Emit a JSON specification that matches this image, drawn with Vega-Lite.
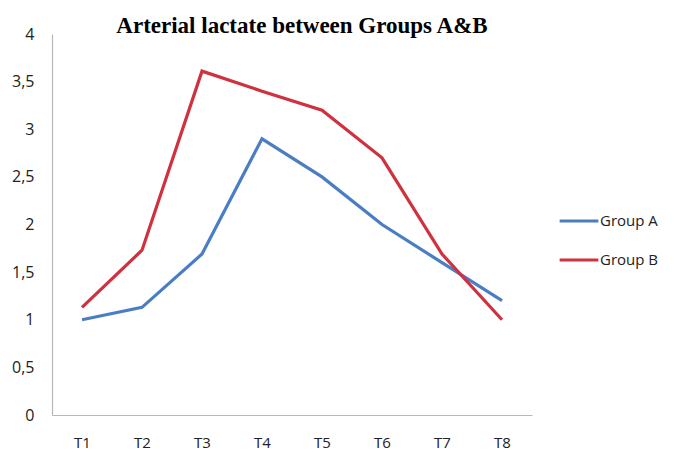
{
  "$schema": "https://vega.github.io/schema/vega-lite/v6.json",
  "autosize": "none",
  "width": 480,
  "height": 381,
  "padding": {"left": 52, "top": 34, "right": 141, "bottom": 47},
  "background": "white",
  "config": {"view": {"stroke": null}},
  "title": {
    "text": "Arterial lactate  between Groups A&B",
    "font": "Liberation Serif",
    "fontSize": 23,
    "fontWeight": "bold",
    "color": "#000000",
    "anchor": "middle",
    "dx": 10,
    "offset": -12
  },
  "data": {
    "values": [
      {"time": "T1", "group": "Group A", "lactate": 1.0},
      {"time": "T2", "group": "Group A", "lactate": 1.13},
      {"time": "T3", "group": "Group A", "lactate": 1.69},
      {"time": "T4", "group": "Group A", "lactate": 2.9},
      {"time": "T5", "group": "Group A", "lactate": 2.5},
      {"time": "T6", "group": "Group A", "lactate": 2.0},
      {"time": "T7", "group": "Group A", "lactate": 1.6},
      {"time": "T8", "group": "Group A", "lactate": 1.2},
      {"time": "T1", "group": "Group B", "lactate": 1.13},
      {"time": "T2", "group": "Group B", "lactate": 1.73},
      {"time": "T3", "group": "Group B", "lactate": 3.61},
      {"time": "T4", "group": "Group B", "lactate": 3.4},
      {"time": "T5", "group": "Group B", "lactate": 3.2},
      {"time": "T6", "group": "Group B", "lactate": 2.7},
      {"time": "T7", "group": "Group B", "lactate": 1.69},
      {"time": "T8", "group": "Group B", "lactate": 1.0}
    ]
  },
  "mark": {"type": "line", "strokeWidth": 3.2},
  "encoding": {
    "x": {
      "field": "time",
      "type": "ordinal",
      "scale": {"type": "point", "padding": 0.5},
      "axis": {
        "title": null,
        "labelAngle": 0,
        "ticks": false,
        "labelPadding": 20,
        "labelFont": "Open Sans",
        "labelFontSize": 15,
        "labelColor": "#222222",
        "domainColor": "#b8b8b8",
        "domainWidth": 1.2,
        "grid": false
      }
    },
    "y": {
      "field": "lactate",
      "type": "quantitative",
      "scale": {"domain": [0, 4], "nice": false},
      "axis": {
        "title": null,
        "values": [0, 0.5, 1, 1.5, 2, 2.5, 3, 3.5, 4],
        "labelExpr": "replace(format(datum.value, '~g'), '.', ',')",
        "ticks": false,
        "labelPadding": 18,
        "labelFont": "Open Sans",
        "labelFontSize": 16,
        "labelColor": "#222222",
        "domainColor": "#b8b8b8",
        "domainWidth": 1.2,
        "grid": false
      }
    },
    "color": {
      "field": "group",
      "type": "nominal",
      "scale": {"domain": ["Group A", "Group B"], "range": ["#4A7DC4", "#D0313F"]},
      "legend": {
        "title": null,
        "orient": "none",
        "legendX": 506,
        "legendY": 166,
        "symbolType": "stroke",
        "symbolSize": 1500,
        "symbolStrokeWidth": 3.2,
        "labelFont": "Open Sans",
        "labelFontSize": 15,
        "labelColor": "#222222",
        "labelOffset": 0,
        "rowPadding": 10
      }
    }
  }
}
